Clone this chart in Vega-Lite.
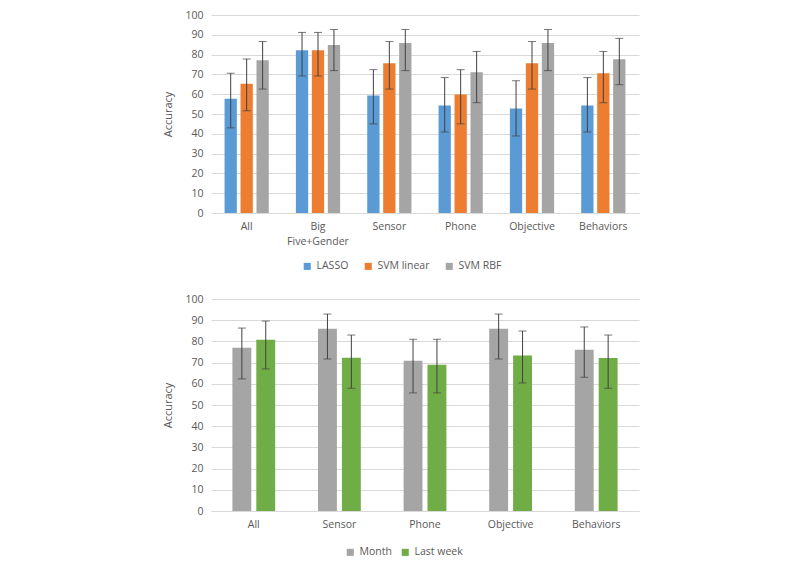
{
  "$schema": "https://vega.github.io/schema/vega-lite/v6.json",
  "padding": {"left": 162, "top": 10, "right": 5, "bottom": 5},
  "background": "white",
  "datasets": {
    "top": [
      {"cat": "All", "model": "LASSO", "acc": 57.7, "lo": 43.0, "hi": 70.6},
      {"cat": "All", "model": "SVM linear", "acc": 65.3, "lo": 51.6, "hi": 77.8},
      {"cat": "All", "model": "SVM RBF", "acc": 77.2, "lo": 62.6, "hi": 86.6},
      {"cat": "Big Five+Gender", "model": "LASSO", "acc": 82.2, "lo": 69.2, "hi": 91.2},
      {"cat": "Big Five+Gender", "model": "SVM linear", "acc": 82.2, "lo": 69.2, "hi": 91.2},
      {"cat": "Big Five+Gender", "model": "SVM RBF", "acc": 84.8, "lo": 71.9, "hi": 92.7},
      {"cat": "Sensor", "model": "LASSO", "acc": 59.4, "lo": 45.0, "hi": 72.4},
      {"cat": "Sensor", "model": "SVM linear", "acc": 75.6, "lo": 62.6, "hi": 86.6},
      {"cat": "Sensor", "model": "SVM RBF", "acc": 85.8, "lo": 71.9, "hi": 92.7},
      {"cat": "Phone", "model": "LASSO", "acc": 54.3, "lo": 40.9, "hi": 68.4},
      {"cat": "Phone", "model": "SVM linear", "acc": 59.9, "lo": 45.0, "hi": 72.4},
      {"cat": "Phone", "model": "SVM RBF", "acc": 71.1, "lo": 55.7, "hi": 81.6},
      {"cat": "Objective", "model": "LASSO", "acc": 52.8, "lo": 38.9, "hi": 66.8},
      {"cat": "Objective", "model": "SVM linear", "acc": 75.6, "lo": 62.6, "hi": 86.6},
      {"cat": "Objective", "model": "SVM RBF", "acc": 85.8, "lo": 71.9, "hi": 92.7},
      {"cat": "Behaviors", "model": "LASSO", "acc": 54.3, "lo": 40.9, "hi": 68.4},
      {"cat": "Behaviors", "model": "SVM linear", "acc": 70.6, "lo": 55.7, "hi": 81.6},
      {"cat": "Behaviors", "model": "SVM RBF", "acc": 77.7, "lo": 64.8, "hi": 88.2}
    ],
    "bottom": [
      {"cat": "All", "period": "Month", "acc": 77.0, "lo": 62.3, "hi": 86.3},
      {"cat": "All", "period": "Last week", "acc": 80.8, "lo": 67.0, "hi": 89.6},
      {"cat": "Sensor", "period": "Month", "acc": 86.0, "lo": 71.7, "hi": 92.9},
      {"cat": "Sensor", "period": "Last week", "acc": 72.3, "lo": 57.9, "hi": 83.0},
      {"cat": "Phone", "period": "Month", "acc": 70.9, "lo": 55.7, "hi": 81.0},
      {"cat": "Phone", "period": "Last week", "acc": 69.0, "lo": 55.7, "hi": 81.0},
      {"cat": "Objective", "period": "Month", "acc": 86.0, "lo": 71.7, "hi": 92.9},
      {"cat": "Objective", "period": "Last week", "acc": 73.3, "lo": 60.4, "hi": 84.9},
      {"cat": "Behaviors", "period": "Month", "acc": 76.1, "lo": 63.1, "hi": 86.8},
      {"cat": "Behaviors", "period": "Last week", "acc": 72.2, "lo": 57.9, "hi": 83.0}
    ]
  },
  "config": {
    "font": "Open Sans",
    "view": {"stroke": null},
    "axis": {
      "labelColor": "#595959",
      "titleColor": "#595959",
      "labelFontSize": 10.5,
      "titleFontSize": 11,
      "titleFontWeight": "normal",
      "ticks": false,
      "gridColor": "#d9d9d9",
      "domainColor": "#d9d9d9"
    },
    "legend": {
      "labelColor": "#595959",
      "labelFontSize": 10.5,
      "symbolType": "square",
      "symbolSize": 50,
      "symbolStrokeWidth": 0,
      "orient": "none",
      "direction": "horizontal",
      "title": null,
      "columnPadding": 14
    },
    "concat": {"spacing": 22}
  },
  "vconcat": [
    {
      "width": 428,
      "height": 198,
      "data": {"name": "top"},
      "encoding": {
        "x": {
          "field": "cat", "type": "nominal", "title": null,
          "sort": ["All", "Big Five+Gender", "Sensor", "Phone", "Objective", "Behaviors"],
          "scale": {"paddingInner": 0.38, "paddingOuter": 0.19},
          "axis": {"labelAngle": 0, "grid": false, "labelPadding": 8, "labelLineHeight": 15,
                   "labelExpr": "datum.label == 'Big Five+Gender' ? ['Big', 'Five+Gender'] : datum.label"}
        },
        "xOffset": {
          "field": "model", "type": "nominal",
          "scale": {"domain": ["LASSO", "SVM linear", "SVM RBF"], "paddingInner": 0.23, "paddingOuter": 0}
        },
        "y": {"field": "acc", "type": "quantitative", "title": "Accuracy",
              "scale": {"domain": [0, 100]},
              "axis": {"values": [0,10,20,30,40,50,60,70,80,90,100], "domain": false, "labelPadding": 8, "titlePadding": 11}}
      },
      "layer": [
        {
          "mark": {"type": "bar"},
          "encoding": {
            "color": {"field": "model", "type": "nominal",
                      "scale": {"domain": ["LASSO", "SVM linear", "SVM RBF"], "range": ["#5B9BD5", "#ED7D31", "#A5A5A5"]},
                      "legend": {"legendX": 91, "legendY": 246}}
          }
        },
        {
          "mark": {"type": "rule", "color": "#404040", "strokeWidth": 1},
          "encoding": {"y": {"field": "lo", "type": "quantitative"}, "y2": {"field": "hi"}}
        },
        {
          "mark": {"type": "tick", "color": "#404040", "size": 8, "thickness": 1, "orient": "horizontal"},
          "encoding": {"y": {"field": "hi", "type": "quantitative"}}
        },
        {
          "mark": {"type": "tick", "color": "#404040", "size": 8, "thickness": 1, "orient": "horizontal"},
          "encoding": {"y": {"field": "lo", "type": "quantitative"}}
        }
      ]
    },
    {
      "width": 428,
      "height": 212,
      "data": {"name": "bottom"},
      "encoding": {
        "x": {
          "field": "cat", "type": "nominal", "title": null,
          "sort": ["All", "Sensor", "Phone", "Objective", "Behaviors"],
          "scale": {"paddingInner": 0.5, "paddingOuter": 0.25},
          "axis": {"labelAngle": 0, "grid": false, "labelPadding": 8}
        },
        "xOffset": {
          "field": "period", "type": "nominal",
          "scale": {"domain": ["Month", "Last week"], "paddingInner": 0.21, "paddingOuter": 0}
        },
        "y": {"field": "acc", "type": "quantitative", "title": "Accuracy",
              "scale": {"domain": [0, 100]},
              "axis": {"values": [0,10,20,30,40,50,60,70,80,90,100], "domain": false, "labelPadding": 8, "titlePadding": 11}}
      },
      "layer": [
        {
          "mark": {"type": "bar"},
          "encoding": {
            "color": {"field": "period", "type": "nominal",
                      "scale": {"domain": ["Month", "Last week"], "range": ["#A5A5A5", "#70AD47"]},
                      "legend": {"legendX": 134, "legendY": 248, "columnPadding": 8}}
          }
        },
        {
          "mark": {"type": "rule", "color": "#404040", "strokeWidth": 1},
          "encoding": {"y": {"field": "lo", "type": "quantitative"}, "y2": {"field": "hi"}}
        },
        {
          "mark": {"type": "tick", "color": "#404040", "size": 8, "thickness": 1, "orient": "horizontal"},
          "encoding": {"y": {"field": "hi", "type": "quantitative"}}
        },
        {
          "mark": {"type": "tick", "color": "#404040", "size": 8, "thickness": 1, "orient": "horizontal"},
          "encoding": {"y": {"field": "lo", "type": "quantitative"}}
        }
      ]
    }
  ],
  "resolve": {"scale": {"color": "independent", "x": "independent", "xOffset": "independent"}, "legend": {"color": "independent"}}
}
